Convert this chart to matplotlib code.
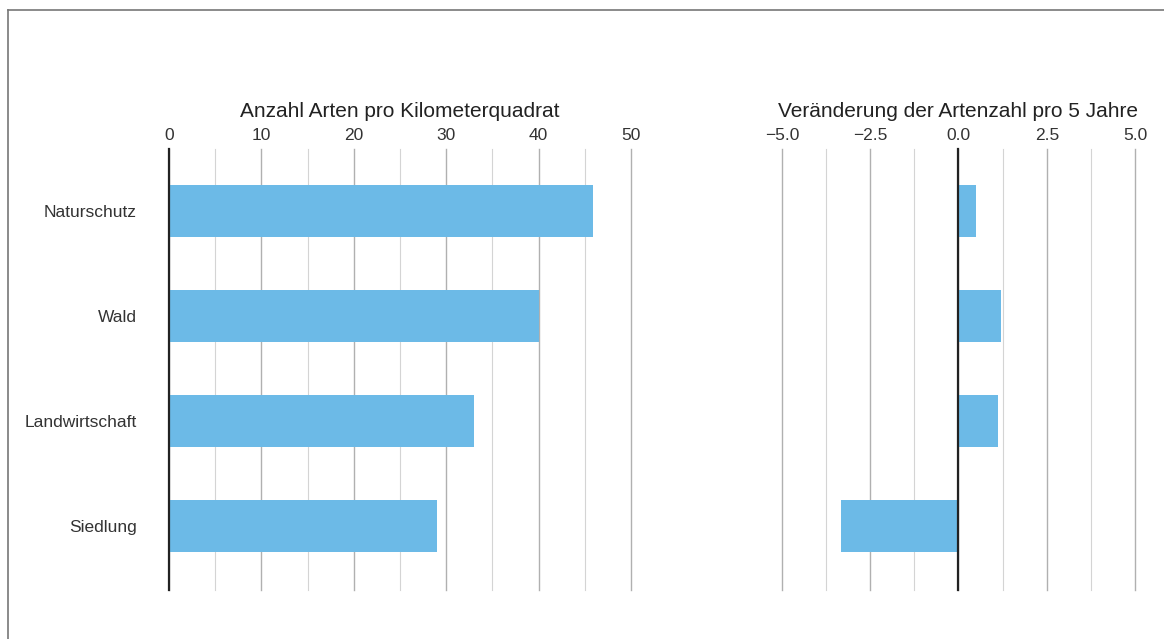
import numpy as np
import matplotlib.pyplot as plt
from matplotlib.lines import Line2D

plt.rcParams['font.family'] = ['Liberation Sans', 'DejaVu Sans']

categories = ['Naturschutz', 'Wald', 'Landwirtschaft', 'Siedlung']
arten = [45.9, 40.0, 33.0, 29.0]
veraenderung = [0.49, 1.21, 1.11, -3.34]

left_ticks = [0, 10, 20, 30, 40, 50]
right_ticks = [-5.0, -2.5, 0.0, 2.5, 5.0]
right_labels = ['\u22125.0', '\u22122.5', '0.0', '2.5', '5.0']

bar_color = '#6cbae7'
major_col = '#b0b0b0'
minor_col = '#d4d4d4'

fig = plt.figure(figsize=(11.64, 6.39), dpi=100)

bottom, height = 0.0767, 0.6901
ax1 = fig.add_axes([0.1452, bottom, 0.3969, height])
ax2 = fig.add_axes([0.6718, bottom, 0.3033, height])

y = np.arange(len(categories))


def style(ax, xlim, major, minor, title):
    ax.set_xlim(*xlim)
    ax.set_ylim(3.61, -0.59)
    for s in ax.spines.values():
        s.set_visible(False)
    for v in minor:
        ax.axvline(v, color=minor_col, lw=0.8, zorder=0, clip_on=False)
    for v in major:
        ax.axvline(v, color=major_col, lw=1.0, zorder=0, clip_on=False)
    ax.axvline(0, color='#222222', lw=1.6, zorder=3, clip_on=False)
    ax.xaxis.tick_top()
    ax.tick_params(axis='x', length=0, pad=4, labelsize=12.5, labelcolor='#333333')
    ax.set_title(title, fontsize=15, color='#222222', pad=23)


ax1.barh(y, arten, height=0.5, color=bar_color, zorder=2)
style(ax1, (0, 50), left_ticks, [5, 15, 25, 35, 45],
      'Anzahl Arten pro Kilometerquadrat')
ax1.set_xticks(left_ticks)
ax1.set_yticks(y)
ax1.set_yticklabels(categories)
ax1.tick_params(axis='y', length=0, pad=23, labelsize=12.5, labelcolor='#333333')

ax2.barh(y, veraenderung, height=0.5, color=bar_color, zorder=2)
style(ax2, (-5, 5), right_ticks, [-3.75, -1.25, 1.25, 3.75],
      'Ver\u00e4nderung der Artenzahl pro 5 Jahre')
ax2.set_xticks(right_ticks)
ax2.set_xticklabels(right_labels)
ax2.set_yticks([])

# frame line at top and left (cropped scan border)
fx = 8 / 1164
fy = 1 - 9.5 / 639
fig.add_artist(Line2D([fx, 1], [fy, fy], transform=fig.transFigure, color='#777777', lw=1.2))
fig.add_artist(Line2D([fx, fx], [0, fy], transform=fig.transFigure, color='#777777', lw=1.2))

fig.savefig('out.png', dpi=100, facecolor='white')
